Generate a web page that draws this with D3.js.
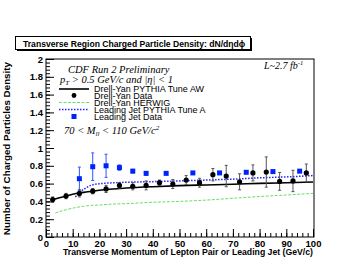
<!DOCTYPE html>
<html><head><meta charset="utf-8">
<script src="https://cdn.jsdelivr.net/npm/d3@7"></script>
<style>body{margin:0;background:#fff}svg{display:block}</style>
</head><body>
<script>
// ---- data ----
const xTicks = [0,10,20,30,40,50,60,70,80,90,100];
const yTicks = [0,0.2,0.4,0.6,0.8,1,1.2,1.4,1.6,1.8,2];

const dyX   = [2.5,7.5,12.5,17.5,22.5,27.5,32.5,37.5,42.5,47.5,52.5,57.5,62.5,67.5,72.5,77.5,82.5,87.5,92.5,97.5];
const dyY   = [0.42,0.46,0.49,0.515,0.54,0.58,0.57,0.58,0.61,0.595,0.64,0.61,0.70,0.685,0.62,0.72,0.73,0.625,0.63,0.72];
const dyErr = [0.03,0.03,0.04,0.03,0.04,0.03,0.04,0.05,0.03,0.05,0.05,0.05,0.07,0.12,0.09,0.09,0.17,0.10,0.12,0.10];

const ljX   = [12.5,17.5,22.5,27.5,32.5,37.5,45,55,65,75,85,95];
const ljY   = [0.655,0.79,0.80,0.78,0.74,0.715,0.715,0.72,0.72,0.727,0.735,0.74];
const ljErr = [0.13,0.155,0.13,0.03,0.02,0.02,0.01,0.01,0.01,0.01,0.01,0.01];

const awX = [2.5,5,7.5,10,12.5,15,20,25,30,40,50,60,70,80,90,100];
const awY = [0.42,0.44,0.46,0.48,0.495,0.505,0.525,0.54,0.55,0.565,0.577,0.585,0.593,0.602,0.61,0.618];

const hwX = [3.5,5,8,11,14,17,20,25,30,40,50,60,70,80,90,100];
const hwY = [0.27,0.285,0.31,0.33,0.345,0.355,0.36,0.37,0.375,0.39,0.40,0.415,0.435,0.455,0.472,0.49];

const taX = [11,12.5,14.3,16.8,20.5,26,30,40,50,60,70,80,90,100];
const taY = [0.45,0.50,0.54,0.58,0.60,0.61,0.615,0.622,0.63,0.64,0.65,0.665,0.675,0.69];

const legendLabels = ["Drell-Yan PYTHIA Tune AW","Drell-Yan Data","Drell-Yan HERWIG","Leading Jet PYTHIA Tune A","Leading Jet Data"];

// ---- drawing ----
const W=360,H=278;
const L=46,R=313,T=59,B=237;
const svg=d3.select("body").append("svg").attr("width",W).attr("height",H);
const x=d3.scaleLinear().domain([0,100]).range([L,R]);
const y=d3.scaleLinear().domain([0,2]).range([B,T]);
const sans="'Liberation Sans', Arial, Helvetica, sans-serif";
const serif="'Liberation Serif', 'Times New Roman', serif";

// title box with shadow
svg.append("rect").attr("x",17).attr("y",38).attr("width",235).attr("height",13).attr("fill","#000");
svg.append("rect").attr("x",15.5).attr("y",36.5).attr("width",235).attr("height",13).attr("fill","#fff").attr("stroke","#000").attr("stroke-width",1);
svg.append("text").attr("x",23).attr("y",46.5).attr("font-family",sans).attr("font-weight","bold").attr("font-size",8.6)
  .text("Transverse Region Charged Particle Density: dN/dηdϕ");

// frame
svg.append("rect").attr("x",L).attr("y",T).attr("width",R-L+1).attr("height",B-T).attr("fill","none").attr("stroke","#000").attr("stroke-width",1);

// axes
const yMinor=d3.range(0,2.0001,0.04);
const xMinor=d3.range(0,100.001,2);
svg.append("g").attr("transform",`translate(${L},0)`)
  .call(d3.axisLeft(y).tickValues(yTicks).tickSize(-8).tickPadding(3).tickFormat(d3.format("~g")));
svg.append("g").attr("transform",`translate(${L},0)`)
  .call(d3.axisLeft(y).tickValues(yMinor).tickSize(-4).tickFormat(""));
svg.append("g").attr("transform",`translate(0,${B})`)
  .call(d3.axisBottom(x).tickValues(xTicks).tickSize(-8).tickPadding(3).tickFormat(d3.format("d")));
svg.append("g").attr("transform",`translate(0,${B})`)
  .call(d3.axisBottom(x).tickValues(xMinor).tickSize(-4).tickFormat(""));
svg.selectAll(".domain").remove();
svg.selectAll(".tick line").attr("stroke","#000");
svg.selectAll(".tick text").attr("font-family",sans).attr("font-weight","bold").attr("font-size",9.5).attr("fill","#000");

// axis titles
svg.append("text").attr("transform",`translate(10,${T+3}) rotate(-90)`).attr("text-anchor","end")
  .attr("font-family",sans).attr("font-weight","bold").attr("font-size",9.8).text("Number of Charged Particles Density");
svg.append("text").attr("x",R).attr("y",255).attr("text-anchor","end")
  .attr("font-family",sans).attr("font-weight","bold").attr("font-size",8.7).text("Transverse Momentum of Lepton Pair or Leading Jet (GeV/c)");

// annotations
svg.append("text").attr("x",68).attr("y",73).attr("font-family",serif).attr("font-style","italic").attr("font-size",10.5).text("CDF Run 2 Preliminary");
const t2=svg.append("text").attr("x",60).attr("y",83).attr("font-family",serif).attr("font-style","italic").attr("font-size",10.5);
t2.append("tspan").text("p");
t2.append("tspan").attr("dy",2).attr("font-size",7).text("T");
t2.append("tspan").attr("dy",-2).text(" > 0.5  GeV/c and |η| < 1");
const t3=svg.append("text").attr("x",264).attr("y",69).attr("font-family",serif).attr("font-style","italic").attr("font-size",10);
t3.append("tspan").text("L~2.7 fb");
t3.append("tspan").attr("dy",-4).attr("font-size",6.5).text("-1");
const t4=svg.append("text").attr("x",64).attr("y",134).attr("font-family",serif).attr("font-style","italic").attr("font-size",10.5);
t4.append("tspan").text("70 < M");
t4.append("tspan").attr("dy",2).attr("font-size",7).text("ll");
t4.append("tspan").attr("dy",-2).text(" < 110 GeV/c");
t4.append("tspan").attr("dy",-4).attr("font-size",7).text("2");

// curves
const line=(xs,ys)=>d3.line().curve(d3.curveMonotoneX).x((d,i)=>x(xs[i])).y(d=>y(d))(ys);
svg.append("path").attr("d",line(hwX,hwY)).attr("fill","none").attr("stroke","#66e066").attr("stroke-width",1).attr("stroke-dasharray","3,1.5");
svg.append("path").attr("d",line(awX,awY)).attr("fill","none").attr("stroke","#000").attr("stroke-width",1.6);
svg.append("path").attr("d",line(taX,taY)).attr("fill","none").attr("stroke","#2222ff").attr("stroke-width",1.5).attr("stroke-dasharray","1.5,1.5");

// error bars + markers
function errs(xs,ys,es,col){
  const g=svg.append("g").attr("stroke",col).attr("stroke-width",1);
  xs.forEach((xv,i)=>{
    const cx=x(xv),y1=y(ys[i]+es[i]),y2=y(ys[i]-es[i]);
    g.append("line").attr("x1",cx).attr("x2",cx).attr("y1",y1).attr("y2",y2);
    g.append("line").attr("x1",cx-1.5).attr("x2",cx+1.5).attr("y1",y1).attr("y2",y1);
    g.append("line").attr("x1",cx-1.5).attr("x2",cx+1.5).attr("y1",y2).attr("y2",y2);
  });
}
errs(ljX,ljY,ljErr,"#3355ff");
errs(dyX,dyY,dyErr,"#555");
svg.append("g").selectAll("rect").data(ljY).join("rect")
  .attr("x",(d,i)=>x(ljX[i])-2.5).attr("y",d=>y(d)-2.5).attr("width",5).attr("height",5).attr("fill","#0022ff");
svg.append("g").selectAll("circle").data(dyY).join("circle")
  .attr("cx",(d,i)=>x(dyX[i])).attr("cy",d=>y(d)).attr("r",2.6).attr("fill","#000");

// legend
const lx0=59,lx1=89,ly=[89,95.5,102.5,109.5,116.5];
svg.append("line").attr("x1",lx0).attr("x2",lx1).attr("y1",ly[0]).attr("y2",ly[0]).attr("stroke","#000").attr("stroke-width",1.6);
svg.append("circle").attr("cx",(lx0+lx1)/2).attr("cy",ly[1]).attr("r",2.4).attr("fill","#000");
svg.append("line").attr("x1",lx0).attr("x2",lx1).attr("y1",ly[2]).attr("y2",ly[2]).attr("stroke","#66e066").attr("stroke-dasharray","3,1.5");
svg.append("line").attr("x1",lx0).attr("x2",lx1).attr("y1",ly[3]).attr("y2",ly[3]).attr("stroke","#2222ff").attr("stroke-width",1.5).attr("stroke-dasharray","1.5,1.5");
svg.append("rect").attr("x",(lx0+lx1)/2-2.5).attr("y",ly[4]-2.5).attr("width",5).attr("height",5).attr("fill","#0022ff");
legendLabels.forEach((t,i)=>{
  svg.append("text").attr("x",94).attr("y",ly[i]+3.3).attr("font-family",sans).attr("font-size",9).text(t);
});
</script>
</body></html>
